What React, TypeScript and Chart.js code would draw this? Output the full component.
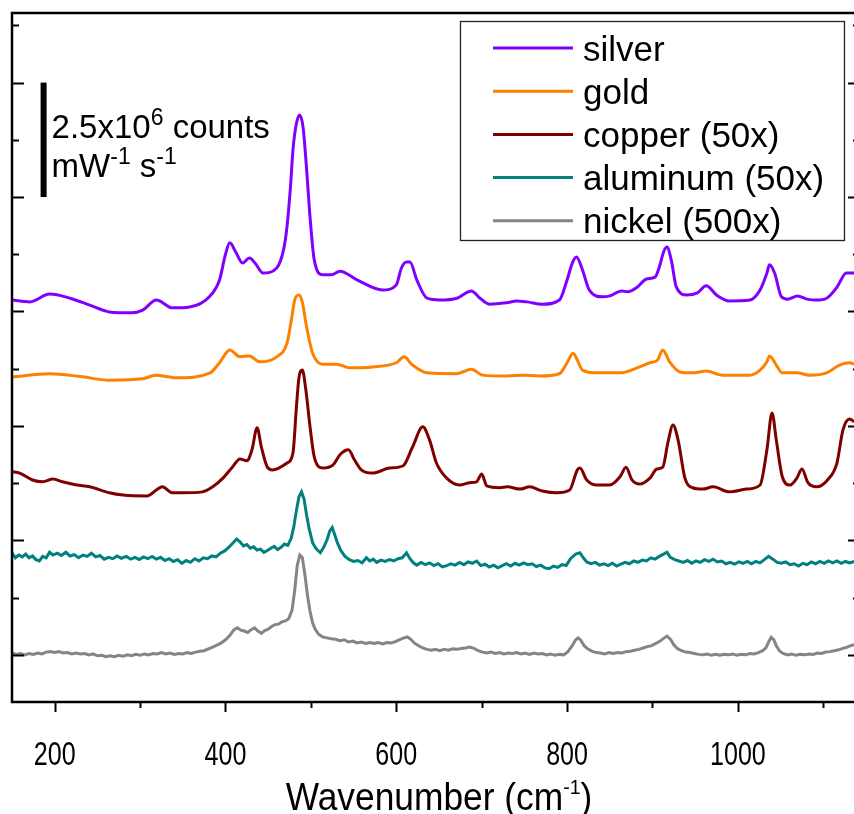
import { useEffect, useRef } from "react";
import { Chart, registerables } from "chart.js";

Chart.register(...registerables);

// ---------- data (wavenumber in cm^-1, intensity in 10^6 counts mW^-1 s^-1, stacked offsets) ----------
const seriesLabels = ["silver", "gold", "copper (50x)", "aluminum (50x)", "nickel (500x)"];
const seriesColors = ["#8000ff", "#ff8000", "#800000", "#008080", "#858585"];

const silverX = [150, 171, 194, 218, 241, 264, 290, 303, 319, 338, 358, 382, 393, 400, 405, 412, 420, 428, 435, 444, 460, 468, 472, 476, 479, 483, 487, 491, 495, 499, 504, 514, 524, 534, 554, 584, 600, 606, 612, 616, 624, 636, 651, 671, 688, 698, 709, 729, 741, 753, 771, 791, 800, 806, 811, 818, 826, 842, 850, 864, 871, 882, 893, 903, 908, 913, 917, 922, 928, 940, 952, 963, 975, 990, 1014, 1026, 1034, 1037, 1043, 1051, 1058, 1070, 1081, 1092, 1104, 1116, 1127, 1136];
const silverY = [7.75, 7.71, 7.88, 7.79, 7.64, 7.49, 7.47, 7.53, 7.75, 7.58, 7.6, 7.84, 8.19, 8.75, 9.0, 8.8, 8.56, 8.67, 8.55, 8.34, 8.45, 8.85, 9.35, 10.2, 11.03, 11.6, 11.79, 11.5, 10.6, 9.56, 8.62, 8.3, 8.3, 8.38, 8.19, 7.97, 8.08, 8.45, 8.58, 8.58, 8.19, 7.79, 7.75, 7.79, 7.95, 7.79, 7.66, 7.69, 7.73, 7.71, 7.66, 7.75, 8.19, 8.55, 8.69, 8.41, 7.97, 7.82, 7.84, 7.95, 7.93, 8.03, 8.21, 8.25, 8.47, 8.8, 8.91, 8.62, 8.03, 7.86, 7.9, 8.06, 7.86, 7.73, 7.75, 7.97, 8.34, 8.52, 8.34, 7.82, 7.77, 7.84, 7.77, 7.75, 7.79, 8.03, 8.34, 8.34];

const goldX = [150, 194, 230, 264, 303, 318, 343, 382, 393, 405, 417, 428, 440, 460, 472, 477, 481, 486, 490, 495, 502, 514, 530, 545, 572, 600, 609, 619, 636, 671, 688, 701, 729, 748, 768, 791, 800, 807, 811, 818, 835, 862, 882, 897, 906, 912, 920, 932, 947, 963, 982, 1014, 1026, 1034, 1037, 1045, 1052, 1069, 1084, 1104, 1119, 1131, 1136];
const goldY = [6.07, 6.14, 6.08, 6.0, 6.03, 6.11, 6.05, 6.16, 6.38, 6.66, 6.51, 6.53, 6.4, 6.51, 6.81, 7.3, 7.75, 7.86, 7.7, 7.16, 6.59, 6.35, 6.35, 6.27, 6.29, 6.38, 6.51, 6.33, 6.16, 6.14, 6.24, 6.11, 6.09, 6.11, 6.09, 6.14, 6.38, 6.59, 6.48, 6.22, 6.16, 6.16, 6.27, 6.38, 6.44, 6.66, 6.4, 6.18, 6.16, 6.2, 6.11, 6.11, 6.22, 6.4, 6.53, 6.33, 6.16, 6.16, 6.11, 6.16, 6.33, 6.38, 6.35];

const copperX = [150, 159, 174, 186, 198, 209, 226, 241, 264, 280, 308, 319, 326, 338, 350, 373, 385, 397, 408, 417, 425, 431, 437, 442, 449, 455, 472, 479, 483, 486, 490, 494, 499, 504, 514, 526, 534, 544, 551, 559, 572, 592, 608, 619, 631, 639, 647, 659, 674, 686, 694, 700, 706, 721, 730, 745, 756, 771, 788, 803, 812, 815, 823, 835, 850, 862, 869, 876, 885, 897, 905, 912, 918, 924, 930, 938, 947, 959, 971, 990, 1010, 1026, 1034, 1040, 1045, 1052, 1061, 1069, 1075, 1082, 1092, 1105, 1116, 1123, 1131, 1136];
const copperY = [4.0, 3.97, 3.82, 3.78, 3.84, 3.78, 3.71, 3.67, 3.54, 3.49, 3.47, 3.6, 3.67, 3.54, 3.54, 3.56, 3.67, 3.86, 4.1, 4.28, 4.24, 4.48, 4.96, 4.54, 4.1, 4.04, 4.19, 4.41, 5.4, 6.05, 6.22, 5.8, 4.98, 4.32, 4.08, 4.15, 4.37, 4.48, 4.26, 4.04, 3.97, 4.08, 4.13, 4.54, 4.98, 4.69, 4.19, 3.86, 3.71, 3.76, 3.78, 3.95, 3.69, 3.65, 3.67, 3.62, 3.67, 3.58, 3.54, 3.6, 4.04, 4.08, 3.82, 3.71, 3.71, 3.89, 4.1, 3.82, 3.73, 3.86, 4.06, 4.1, 4.63, 5.02, 4.69, 3.86, 3.65, 3.62, 3.67, 3.56, 3.62, 3.71, 4.48, 5.28, 4.69, 3.89, 3.71, 3.86, 4.06, 3.76, 3.67, 3.82, 4.19, 4.91, 5.15, 5.09];

const aluminumX = [150, 154, 158, 162, 166, 170, 174, 178, 182, 186, 190, 194, 198, 203, 208, 213, 218, 223, 228, 233, 238, 243, 248, 253, 258, 263, 268, 273, 278, 284, 289, 294, 299, 304, 309, 314, 319, 324, 329, 334, 339, 344, 349, 354, 359, 364, 369, 374, 379, 384, 389, 394, 399, 404, 409, 413, 417, 421, 425, 429, 433, 437, 441, 445, 449, 453, 457, 461, 465, 469, 473, 477, 480, 483, 486, 489, 492, 495, 498, 502, 506, 511, 515, 519, 522, 525, 528, 531, 535, 540, 545, 550, 555, 560, 565, 569, 573, 577, 582, 587, 592, 597, 602, 607, 612, 616, 620, 624, 629, 634, 639, 644, 649, 654, 659, 664, 669, 674, 679, 684, 689, 694, 699, 704, 709, 714, 719, 724, 729, 734, 739, 744, 749, 754, 759, 764, 769, 774, 779, 784, 789, 794, 799, 804, 810, 815, 819, 823, 828, 833, 838, 843, 848, 853, 858, 863, 868, 873, 878, 883, 888, 893, 898, 903, 908, 913, 917, 921, 926, 931, 936, 941, 946, 951, 956, 961, 966, 971, 976, 981, 986, 991, 996, 1001, 1006, 1011, 1016, 1021, 1026, 1031, 1036, 1041, 1046, 1051, 1056, 1061, 1066, 1071, 1076, 1081, 1086, 1091, 1096, 1101, 1106, 1111, 1116, 1121, 1126, 1131, 1136];
const aluminumY = [2.23, 2.12, 2.18, 2.14, 2.2, 2.12, 2.16, 2.08, 2.05, 2.15, 2.12, 2.24, 2.18, 2.22, 2.17, 2.24, 2.16, 2.19, 2.12, 2.18, 2.15, 2.22, 2.14, 2.17, 2.09, 2.13, 2.1, 2.16, 2.11, 2.15, 2.09, 2.13, 2.08, 2.14, 2.1, 2.15, 2.09, 2.13, 2.06, 2.1, 2.04, 2.08, 2.0, 2.06, 2.02, 2.1, 2.05, 2.12, 2.1, 2.16, 2.14, 2.22, 2.27, 2.35, 2.45, 2.53, 2.47, 2.38, 2.41, 2.33, 2.36, 2.29, 2.31, 2.24, 2.28, 2.33, 2.37, 2.3, 2.35, 2.42, 2.39, 2.55, 2.8, 3.15, 3.45, 3.56, 3.4, 3.05, 2.75, 2.45, 2.32, 2.23, 2.35, 2.52, 2.7, 2.78, 2.62, 2.45, 2.28, 2.15, 2.08, 2.04, 2.06, 2.01, 2.12, 2.05, 2.09, 2.02, 2.07, 2.04, 2.08, 2.05, 2.1, 2.12, 2.23, 2.1, 2.01, 1.96, 2.02, 1.97, 2.01, 1.95, 1.99, 1.92, 1.95, 1.99, 1.96, 2.02, 1.97, 2.03, 2.0, 2.05, 1.95, 1.98, 1.92, 1.96, 1.9, 1.95, 1.99, 1.94, 2.0, 1.96, 2.01, 1.97, 1.99, 1.93, 1.96, 1.9, 1.88, 1.94, 1.91, 1.97, 1.95, 2.1, 2.2, 2.23, 2.12, 2.03, 1.99, 2.02, 1.96, 1.99, 1.95, 2.0, 1.94, 1.98, 2.02, 1.99, 2.05, 2.02, 2.07, 2.05, 2.12, 2.09, 2.15, 2.2, 2.24, 2.13, 2.08, 2.05, 2.02, 2.06, 2.0, 2.05, 2.02, 2.08, 2.04, 2.09, 2.03, 2.05, 1.99, 2.02, 1.98, 2.03, 2.0, 2.04, 1.99, 2.04, 2.01, 2.08, 2.15, 2.09, 2.02, 2.0, 2.03, 1.97, 1.99, 1.94, 2.0, 1.97, 2.03, 1.99, 2.04, 2.0, 2.05, 2.01, 2.05, 2.0, 2.04, 2.01, 2.04];

const nickelX = [150, 155, 160, 165, 170, 175, 180, 185, 190, 195, 200, 205, 210, 215, 220, 225, 230, 235, 240, 245, 250, 255, 260, 265, 270, 275, 280, 285, 290, 295, 300, 305, 310, 315, 320, 325, 330, 335, 340, 345, 350, 355, 360, 365, 370, 375, 380, 385, 390, 395, 400, 405, 410, 414, 418, 422, 426, 430, 434, 438, 442, 446, 450, 454, 458, 462, 466, 470, 474, 478, 481, 484, 487, 490, 493, 496, 499, 502, 505, 509, 514, 519, 524, 529, 534, 539, 544, 549, 554, 559, 564, 569, 574, 579, 584, 589, 594, 599, 604, 609, 613, 617, 621, 626, 631, 636, 641, 646, 651, 656, 661, 666, 671, 676, 681, 686, 691, 696, 701, 706, 711, 716, 721, 726, 731, 736, 741, 746, 751, 756, 761, 766, 771, 776, 781, 786, 791, 796, 801, 806, 810, 813, 816, 820, 824, 829, 834, 839, 844, 849, 854, 859, 864, 869, 874, 879, 884, 889, 894, 899, 904, 909, 913, 917, 921, 925, 929, 934, 939, 944, 949, 954, 959, 964, 969, 974, 979, 984, 989, 994, 999, 1004, 1009, 1014, 1019, 1024, 1029, 1033, 1036, 1039, 1042, 1045, 1049, 1053, 1058, 1063, 1068, 1073, 1078, 1083, 1088, 1093, 1098, 1103, 1108, 1113, 1118, 1123, 1128, 1132, 1136];
const nickelY = [0.04, 0.01, 0.03, 0.0, 0.03, 0.01, 0.04, 0.02, 0.06, 0.07, 0.05, 0.07, 0.04, 0.05, 0.02, 0.04, 0.02, 0.03, 0.0, 0.02, -0.02, -0.01, -0.04, -0.02, -0.04, -0.01, -0.03, 0.0, -0.02, 0.01, -0.01, 0.02, 0.0, 0.03, 0.02, 0.05, 0.02, 0.04, 0.01, 0.03, 0.02, 0.05, 0.03, 0.06, 0.08, 0.09, 0.13, 0.17, 0.21, 0.26, 0.33, 0.42, 0.55, 0.59, 0.54, 0.52, 0.49, 0.55, 0.59, 0.52, 0.47, 0.53, 0.56, 0.62, 0.66, 0.67, 0.72, 0.74, 0.79, 0.98, 1.4, 1.95, 2.18, 2.12, 1.75, 1.3, 0.95, 0.7, 0.56, 0.45, 0.39, 0.37, 0.35, 0.34, 0.31, 0.33, 0.28, 0.3, 0.26, 0.28, 0.25, 0.27, 0.25, 0.27, 0.24, 0.27, 0.26, 0.29, 0.33, 0.37, 0.39, 0.34, 0.26, 0.2, 0.15, 0.12, 0.1, 0.12, 0.09, 0.12, 0.1, 0.13, 0.12, 0.14, 0.15, 0.17, 0.14, 0.09, 0.06, 0.04, 0.06, 0.03, 0.05, 0.02, 0.04, 0.03, 0.05, 0.02, 0.04, 0.01, 0.04, 0.02, 0.03, 0.0, 0.02, -0.01, 0.01, 0.0, 0.07, 0.2, 0.33, 0.37, 0.32, 0.2, 0.13, 0.08, 0.05, 0.04, 0.02, 0.05, 0.03, 0.05, 0.04, 0.07, 0.08, 0.1, 0.12, 0.15, 0.18, 0.2, 0.25, 0.3, 0.36, 0.41, 0.34, 0.22, 0.14, 0.09, 0.06, 0.05, 0.03, 0.01, 0.0, 0.02, -0.01, 0.01, -0.01, 0.01, 0.0, 0.02, -0.01, 0.01, 0.0, 0.03, 0.02, 0.05, 0.09, 0.16, 0.28, 0.38, 0.33, 0.2, 0.08, 0.03, 0.0, 0.02, -0.01, 0.01, 0.0, 0.02, 0.01, 0.04, 0.03, 0.06, 0.07, 0.09, 0.11, 0.14, 0.17, 0.2, 0.22];

const seriesX = [silverX, goldX, copperX, aluminumX, nickelX];
const seriesY = [silverY, goldY, copperY, aluminumY, nickelY];
const smoothSeries = [true, true, true, false, false];

// axis ticks
const xMin = 150;
const xMax = 1143;
const yMin = -1.03;
const yMax = 14.02;
const xMajorTicks = [200, 400, 600, 800, 1000];
const xMinorTicks = [300, 500, 700, 900, 1100];
const yMajorTicks = [0, 2.5, 5, 7.5, 10, 12.5];
const yMinorTicks = [1.25, 3.75, 6.25, 8.75, 11.25, 13.75];

// scale bar (2.5 x 10^6 counts)
const scaleBarX = 187;
const scaleBarFrom = 10;
const scaleBarTo = 12.5;

const FONT = "'Liberation Sans', Arial, Helvetica, sans-serif";

function drawSupText(
  ctx: CanvasRenderingContext2D,
  parts: { t: string; sup?: boolean }[],
  x: number,
  y: number,
  size: number,
  supSize: number,
  supRise: number,
  align: "left" | "center" = "left",
  sx = 1
) {
  let total = 0;
  for (const p of parts) {
    ctx.font = `${p.sup ? supSize : size}px ${FONT}`;
    total += ctx.measureText(p.t).width * sx;
  }
  let cx = align === "center" ? x - total / 2 : x;
  for (const p of parts) {
    ctx.font = `${p.sup ? supSize : size}px ${FONT}`;
    ctx.save();
    ctx.translate(cx, p.sup ? y - supRise : y);
    ctx.scale(sx, 1);
    ctx.fillText(p.t, 0, 0);
    ctx.restore();
    cx += ctx.measureText(p.t).width * sx;
  }
}

const decorPlugin = {
  id: "decor",
  afterDraw(chart: any) {
    const { ctx, chartArea: a, scales } = chart;
    const xs = scales.x;
    const ys = scales.y;
    ctx.save();
    ctx.strokeStyle = "#000";
    ctx.fillStyle = "#000";
    ctx.textAlign = "left";
    ctx.textBaseline = "alphabetic";

    // frame
    ctx.lineWidth = 2.5;
    ctx.strokeRect(a.left, a.top, a.right - a.left, a.bottom - a.top);

    // y ticks (inward, both sides)
    ctx.lineWidth = 2;
    const yT = (v: number, len: number) => {
      const py = Math.round(ys.getPixelForValue(v)) + 0.5;
      ctx.beginPath();
      ctx.moveTo(a.left, py);
      ctx.lineTo(a.left + len, py);
      ctx.moveTo(a.right, py);
      ctx.lineTo(a.right - len, py);
      ctx.stroke();
    };
    yMajorTicks.forEach((v) => yT(v, 12));
    yMinorTicks.forEach((v) => yT(v, 7));

    // x ticks (outward, bottom)
    const xT = (v: number, len: number) => {
      const px = Math.round(xs.getPixelForValue(v)) + 0.5;
      ctx.beginPath();
      ctx.moveTo(px, a.bottom);
      ctx.lineTo(px, a.bottom + len);
      ctx.stroke();
    };
    xMajorTicks.forEach((v) => xT(v, 10));
    xMinorTicks.forEach((v) => xT(v, 6));

    // x tick labels (condensed)
    xMajorTicks.forEach((v) => {
      drawSupText(ctx, [{ t: String(v) }], xs.getPixelForValue(v), a.bottom + 63, 33, 20, 0, "center", 0.76);
    });

    // x title
    drawSupText(
      ctx,
      [{ t: "Wavenumber (cm" }, { t: "-1", sup: true }, { t: ")" }],
      439,
      a.bottom + 108,
      38,
      21,
      16,
      "center",
      0.93
    );

    // scale bar
    const bx = xs.getPixelForValue(scaleBarX);
    ctx.lineWidth = 6;
    ctx.beginPath();
    ctx.moveTo(bx, ys.getPixelForValue(scaleBarFrom));
    ctx.lineTo(bx, ys.getPixelForValue(scaleBarTo));
    ctx.stroke();
    drawSupText(ctx, [{ t: "2.5x10" }, { t: "6", sup: true }, { t: " counts" }], bx + 8, 138, 33, 23, 13);
    drawSupText(ctx, [{ t: "mW" }, { t: "-1", sup: true }, { t: " s" }, { t: "-1", sup: true }], bx + 8, 177, 33, 23, 13);

    // legend
    const lx = 460, ly = 21, lw = 384, lh = 219;
    ctx.lineWidth = 1.3;
    ctx.strokeStyle = "#222";
    ctx.strokeRect(lx + 0.5, ly + 0.5, lw, lh);
    chart.data.datasets.forEach((ds: any, i: number) => {
      const cy = 48 + i * 43.2;
      ctx.strokeStyle = ds.borderColor;
      ctx.lineWidth = 3;
      ctx.beginPath();
      ctx.moveTo(493, cy);
      ctx.lineTo(573, cy);
      ctx.stroke();
      ctx.fillStyle = "#000";
      ctx.font = `35px ${FONT}`;
      ctx.fillText(ds.label, 583, cy + 12.5);
    });

    ctx.restore();
  },
};

export default function App() {
  const ref = useRef<HTMLCanvasElement | null>(null);

  useEffect(() => {
    if (!ref.current) return;
    const datasets = seriesLabels.map((label, i) => ({
      label,
      data: seriesX[i].map((x, j) => ({ x, y: seriesY[i][j] })),
      borderColor: seriesColors[i],
      backgroundColor: seriesColors[i],
      borderWidth: 3,
      pointRadius: 0,
      fill: false,
      cubicInterpolationMode: smoothSeries[i] ? ("monotone" as const) : ("default" as const),
      tension: 0,
    }));
    const chart = new Chart(ref.current, {
      type: "line",
      data: { datasets },
      options: {
        animation: false,
        responsive: false,
        devicePixelRatio: 1,
        layout: { padding: { left: 12, top: 13, right: 6, bottom: 112 } },
        plugins: { legend: { display: false }, tooltip: { enabled: false } },
        scales: {
          x: { type: "linear", min: xMin, max: xMax, display: false },
          y: { type: "linear", min: yMin, max: yMax, display: false },
        },
      },
      plugins: [decorPlugin],
    });
    return () => chart.destroy();
  }, []);

  return (
    <div
      style={{
        position: "absolute",
        left: 0,
        top: 0,
        width: 854,
        height: 814,
        overflow: "hidden",
        background: "#fff",
      }}
    >
      <canvas ref={ref} width={866} height={814} style={{ width: 866, height: 814, display: "block" }} />
    </div>
  );
}
